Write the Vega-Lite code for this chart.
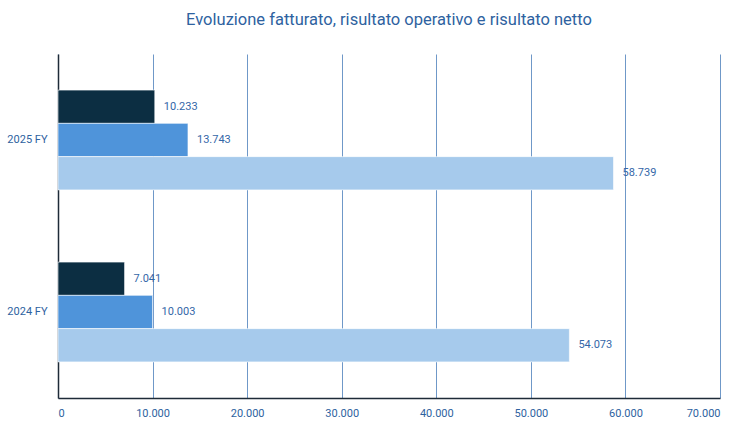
{
  "$schema": "https://vega.github.io/schema/vega-lite/v6.json",
  "width": 662,
  "height": 344,
  "autosize": {"type": "none"},
  "padding": {"left": 58, "top": 54, "right": 33, "bottom": 28},
  "background": "white",
  "title": {
    "text": "Evoluzione fatturato, risultato operativo e risultato netto",
    "font": "Roboto",
    "fontSize": 16.5,
    "fontWeight": "normal",
    "color": "#2E62A0",
    "anchor": "middle",
    "offset": 26
  },
  "data": {
    "values": [
      {"anno": "2025 FY", "voce": "Risultato netto", "valore": 10233},
      {"anno": "2025 FY", "voce": "Risultato operativo", "valore": 13743},
      {"anno": "2025 FY", "voce": "Fatturato", "valore": 58739},
      {"anno": "2024 FY", "voce": "Risultato netto", "valore": 7041},
      {"anno": "2024 FY", "voce": "Risultato operativo", "valore": 10003},
      {"anno": "2024 FY", "voce": "Fatturato", "valore": 54073}
    ]
  },
  "encoding": {
    "y": {
      "field": "anno",
      "type": "nominal",
      "sort": ["2025 FY", "2024 FY"],
      "scale": {"paddingInner": 0.42, "paddingOuter": 0.21},
      "axis": {
        "title": null,
        "ticks": false,
        "labelPadding": 11,
        "labelFont": "Roboto",
        "labelFontSize": 11,
        "labelColor": "#2E62A0",
        "domainColor": "#1E2B38",
        "domainWidth": 1.5,
        "grid": false
      }
    },
    "yOffset": {
      "field": "voce",
      "type": "nominal",
      "sort": ["Risultato netto", "Risultato operativo", "Fatturato"],
      "scale": {"paddingInner": 0, "paddingOuter": 0}
    },
    "x": {
      "field": "valore",
      "type": "quantitative",
      "scale": {"domain": [0, 70000], "nice": false},
      "axis": {
        "title": null,
        "values": [0, 10000, 20000, 30000, 40000, 50000, 60000, 70000],
        "format": ",d",
        "ticks": false,
        "labelPadding": 9,
        "labelFont": "Roboto",
        "labelFontSize": 11,
        "labelColor": "#2E62A0",
        "domainColor": "#1E2B38",
        "domainWidth": 1.5,
        "grid": true,
        "gridColor": "#6F98C8",
        "gridWidth": 1
      }
    }
  },
  "layer": [
    {
      "mark": {"type": "bar", "stroke": "white", "strokeWidth": 0.6},
      "encoding": {
        "color": {
          "field": "voce",
          "type": "nominal",
          "scale": {
            "domain": ["Risultato netto", "Risultato operativo", "Fatturato"],
            "range": ["#0C2E42", "#4F94DA", "#A6CAEC"]
          },
          "legend": null
        }
      }
    },
    {
      "mark": {"type": "text", "align": "left", "baseline": "middle", "dx": 9, "font": "Roboto", "fontSize": 11, "fill": "#3467A8"},
      "encoding": {
        "text": {"field": "valore", "type": "quantitative", "format": ",d"}
      }
    }
  ],
  "config": {
    "view": {"stroke": null},
    "locale": {
      "number": {"decimal": ",", "thousands": ".", "grouping": [3], "currency": ["€", ""]}
    }
  }
}
